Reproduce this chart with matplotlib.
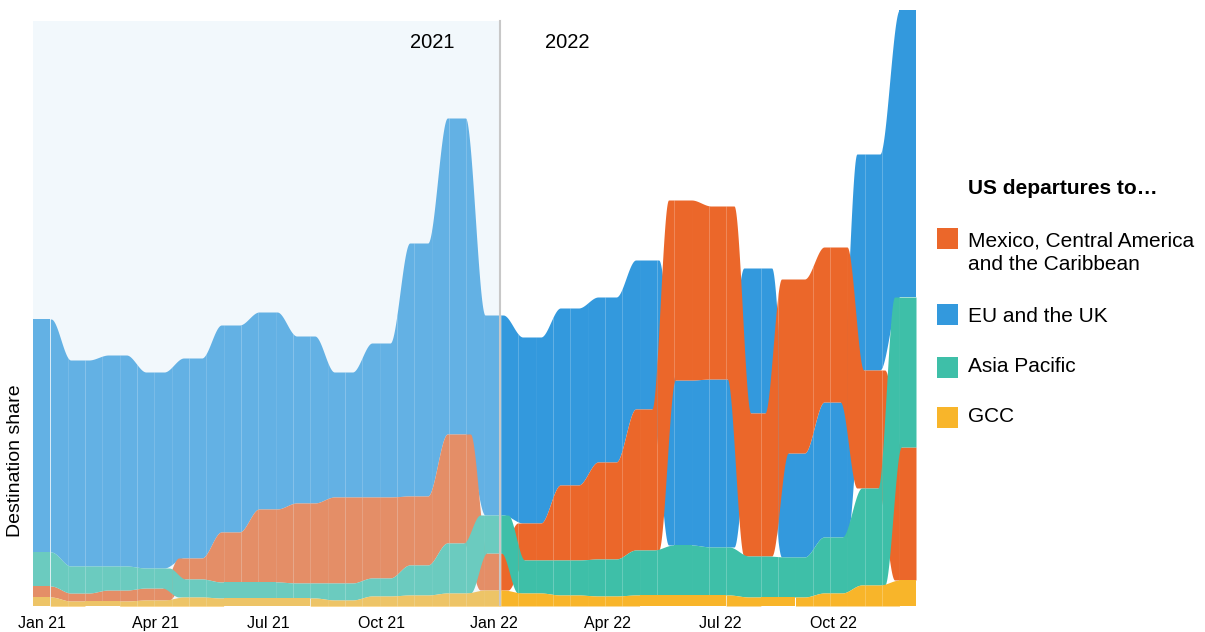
import numpy as np
import matplotlib.pyplot as plt
from matplotlib.patches import Rectangle

plt.rcParams['font.family'] = ['Liberation Sans', 'DejaVu Sans']

# monthly destination share (index units)
months = ['Jan 21', 'Feb 21', 'Mar 21', 'Apr 21', 'May 21', 'Jun 21',
          'Jul 21', 'Aug 21', 'Sep 21', 'Oct 21', 'Nov 21', 'Dec 21',
          'Jan 22', 'Feb 22', 'Mar 22', 'Apr 22', 'May 22', 'Jun 22',
          'Jul 22', 'Aug 22', 'Sep 22', 'Oct 22', 'Nov 22', 'Dec 22']
mexico = [11, 8, 11, 12, 21, 50, 73, 80, 86, 81, 69, 109,
          37, 37, 75, 97, 141, 180, 173, 143, 174, 155, 118, 133]
eu_uk = [233, 206, 211, 196, 200, 207, 197, 167, 125, 154, 253, 316,
         200, 186, 177, 165, 149, 165, 168, 145, 104, 135, 216, 287]
asia = [34, 27, 24, 20, 18, 16, 16, 15, 17, 18, 30, 50,
        38, 33, 35, 37, 45, 50, 48, 41, 40, 56, 97, 150]
gcc = [9, 5, 5, 6, 9, 8, 8, 8, 6, 10, 11, 13,
       16, 13, 11, 10, 11, 11, 11, 9, 9, 13, 21, 26]

names = ['Mexico, Central America\nand the Caribbean', 'EU and the UK',
         'Asia Pacific', 'GCC']
colors = ['#eb672a', '#3399dd', '#3ebfa8', '#f8b52a']
zorders = [3, 2, 4, 5]
tick_months = [0, 3, 6, 9, 12, 15, 18, 21]

vals = np.array([mexico, eu_uk, asia, gcc], dtype=float)
n = vals.shape[1]

# ranked stacking: smallest at the bottom each month
bottoms = np.zeros_like(vals)
tops = np.zeros_like(vals)
rank = np.zeros(vals.shape, dtype=int)
for m in range(n):
    cum = 0.0
    for r, k in enumerate(np.argsort(vals[:, m], kind='stable')):
        rank[k, m] = r
        bottoms[k, m] = cum
        cum += vals[k, m]
        tops[k, m] = cum


def smooth(t, lo, hi):
    s = np.clip((t - lo) / (hi - lo), 0, 1)
    return s * s * (3 - 2 * s)


def band(x, k):
    i = np.clip(np.floor(x).astype(int), 0, n - 2)
    t = x - i
    s_n = smooth(t, 0.24, 0.76)
    s_e = smooth(t, 0.19, 0.63)
    s_l = smooth(t, 0.37, 0.81)
    b0, b1 = bottoms[k, i], bottoms[k, i + 1]
    t0, t1 = tops[k, i], tops[k, i + 1]
    moved = rank[k, i] != rank[k, i + 1]
    up = (b1 + t1) > (b0 + t0)
    s_top = np.where(moved, np.where(up, s_e, s_l), s_n)
    s_bot = np.where(moved, np.where(up, s_l, s_e), s_n)
    return b0 + (b1 - b0) * s_bot, t0 + (t1 - t0) * s_top


W, H = 1205, 632
fig = plt.figure(figsize=(W / 100, H / 100), dpi=100)
ax = fig.add_axes([33 / W, (H - 606) / H, 883 / W, 596 / H])

x0, x1 = -0.239, 23.2
edges = np.arange(x0, x1 + 0.46, 0.46)
edges[-1] = x1
for k in range(4):
    for a_, b_ in zip(edges[:-1], edges[1:]):
        xs = np.linspace(a_, b_, 40)
        lo, hi = band(xs, k)
        ax.fill_between(xs, lo, hi, color=colors[k], lw=0, zorder=zorders[k])

# 2021 shading and divider
split = (500 - 42) / 37.67
ax.add_patch(Rectangle((x0, 0), split - x0, 585, facecolor='#d4e9f6',
                       alpha=0.3, lw=0, zorder=10))
ax.plot([split, split], [0, 585], color='#c8c8c8', lw=1.5, zorder=11)
ax.text((432 - 42) / 37.67, 606 - 42, '2021', fontsize=14.5,
        ha='center', va='center', zorder=12)
ax.text((567 - 42) / 37.67, 606 - 42, '2022', fontsize=14.5,
        ha='center', va='center', zorder=12)

ax.set_xlim(x0, x1)
ax.set_ylim(0, 596)
ax.set_xticks(tick_months)
ax.set_xticklabels([months[i] for i in tick_months], fontsize=11.5)
ax.tick_params(axis='x', length=0, pad=7)
ax.set_yticks([])
for sp in ax.spines.values():
    sp.set_visible(False)

fig.text(16 / W, 1 - 461 / H, 'Destination share', rotation=90,
         fontsize=14, ha='center', va='center')

# legend
lg = fig.add_axes([0, 0, 1, 1], zorder=20)
lg.set_xlim(0, W)
lg.set_ylim(H, 0)
lg.axis('off')
lg.patch.set_alpha(0)
lg.text(968, 188, 'US departures to…', fontsize=15, fontweight='bold',
        va='center', ha='left')
sw_y = [228, 304, 357, 407]
txt_y = [253, 316, 367, 417]
for k in range(4):
    lg.add_patch(Rectangle((937, sw_y[k]), 21, 21, facecolor=colors[k], lw=0))
    lg.text(968, txt_y[k], names[k], fontsize=15, va='center',
            ha='left', linespacing=1.3)

fig.savefig('out.png', dpi=100)
